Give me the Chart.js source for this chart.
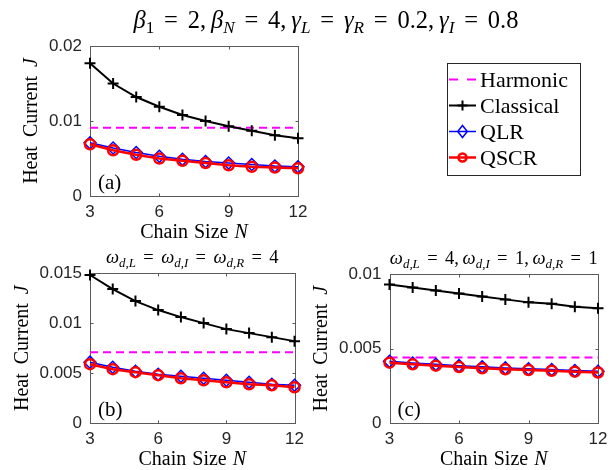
<!DOCTYPE html>
<html><head><meta charset="utf-8">
<script src="https://cdn.jsdelivr.net/npm/chart.js@4.4.1/dist/chart.umd.min.js"></script>
<style>
html,body{margin:0;padding:0;background:#fff;}
#wrap{position:relative;width:615px;height:470px;overflow:hidden;background:#fff;}
canvas{position:absolute;}
</style></head><body>
<div id="wrap">
<canvas id="cA" width="615" height="245" style="left:0;top:0"></canvas>
<canvas id="cB" width="310" height="225" style="left:0;top:245px"></canvas>
<canvas id="cC" width="315" height="225" style="left:300px;top:245px"></canvas>
</div>
<script>
// ---------------- data ----------------
const chainSizes = [3, 4, 5, 6, 7, 8, 9, 10, 11, 12];
const xTickValues = [3, 6, 9, 12];
const xTickLabels = ['3', '6', '9', '12'];
const seriesNames = ['Harmonic', 'Classical', 'QLR', 'QSCR'];

// panel (a)
const harmonicA  = [0.0091, 0.0091, 0.0091, 0.0091, 0.0091, 0.0091, 0.0091, 0.0091, 0.0091, 0.0091];
const classicalA = [0.0177, 0.0150, 0.0132, 0.0119, 0.0108, 0.0100, 0.0093, 0.0087, 0.0081, 0.0077];
const qlrA       = [0.0071, 0.0064, 0.0058, 0.0053, 0.0049, 0.0046, 0.0044, 0.0042, 0.0040, 0.0039];
const qscrA      = [0.0069, 0.0061, 0.0055, 0.0050, 0.0047, 0.0044, 0.0041, 0.0039, 0.0038, 0.0037];
const yTicksA = [0, 0.01, 0.02];
const yTickLabelsA = ['0', '0.01', '0.02'];

// panel (b)
const harmonicB  = [0.0071, 0.0071, 0.0071, 0.0071, 0.0071, 0.0071, 0.0071, 0.0071, 0.0071, 0.0071];
const classicalB = [0.0148, 0.0134, 0.0122, 0.0113, 0.0106, 0.0100, 0.0094, 0.0090, 0.0086, 0.0082];
const qlrB       = [0.0061, 0.0056, 0.0052, 0.0049, 0.0047, 0.0045, 0.0043, 0.0041, 0.0039, 0.0038];
const qscrB      = [0.0059, 0.0054, 0.0051, 0.0048, 0.0045, 0.0043, 0.0041, 0.0039, 0.0038, 0.0036];
const yTicksB = [0, 0.005, 0.01, 0.015];
const yTickLabelsB = ['0', '0.005', '0.01', '0.015'];

// panel (c)
const harmonicC  = [0.0044, 0.0044, 0.0044, 0.0044, 0.0044, 0.0044, 0.0044, 0.0044, 0.0044, 0.0044];
const classicalC = [0.0093, 0.0091, 0.0089, 0.0087, 0.0085, 0.0083, 0.0081, 0.0080, 0.0078, 0.0077];
const qlrC       = [0.00415, 0.00404, 0.00395, 0.00386, 0.00378, 0.00371, 0.00365, 0.00360, 0.00354, 0.00348];
const qscrC      = [0.00406, 0.00395, 0.00386, 0.00377, 0.00369, 0.00362, 0.00357, 0.00352, 0.00346, 0.00340];
const yTicksC = [0, 0.005, 0.01];
const yTickLabelsC = ['0', '0.005', '0.01'];

// ---------------- styles ----------------
const SERIF = '"Liberation Serif", "Times New Roman", serif';
const SANS = '"Liberation Sans", Arial, sans-serif';
const TEXT_COLOR = '#262626';
const BOX_COLOR = '#5a5a5a';
const STY = {
  Harmonic:  { color: '#FF00FF', width: 2,   dash: [8, 5], point: false },
  Classical: { color: '#000000', width: 2,   point: 'cross',   r: 5.5, pw: 2 },
  QLR:       { color: '#0000FF', width: 1.5, point: 'rectRot', r: 6,   pw: 1.5 },
  QSCR:      { color: '#FF0000', width: 2.5, point: 'circle',  r: 5,   pw: 2.5 }
};

// rich text: [text, kind]; kind r=roman i=italic s=sub roman si=sub italic g=gap(em)
function fontFor(kind, size) {
  const it = kind.indexOf('i') >= 0;
  const sub = kind.charAt(0) === 's';
  const s = sub ? size * 0.7 : size;
  return (it ? 'italic ' : '') + s + 'px ' + SERIF;
}
function richWidth(ctx, segs, size) {
  let w = 0;
  segs.forEach(([t, k]) => {
    if (k === 'g') { w += t * size; return; }
    ctx.font = fontFor(k, size); w += ctx.measureText(t).width;
  });
  return w;
}
function drawRich(ctx, segs, x, y, size, align) {
  const w = richWidth(ctx, segs, size);
  let cx = align === 'center' ? x - w / 2 : (align === 'right' ? x - w : x);
  ctx.fillStyle = '#000'; ctx.textAlign = 'left'; ctx.textBaseline = 'alphabetic';
  segs.forEach(([t, k]) => {
    if (k === 'g') { cx += t * size; return; }
    ctx.font = fontFor(k, size);
    const dy = k.charAt(0) === 's' ? size * 0.22 : 0;
    ctx.fillText(t, cx, y + dy);
    cx += ctx.measureText(t).width;
  });
}
const EQ = [[0.4, 'g'], ['=', 'r'], [0.4, 'g']];
const TH = [[0.2, 'g']];
const mainTitle = [['β', 'i'], ['1', 's'], ...EQ, ['2,', 'r'], ...TH, ['β', 'i'], ['N', 'si'], ...EQ, ['4,', 'r'], ...TH,
  ['γ', 'i'], ['L', 'si'], ...EQ, ['γ', 'i'], ['R', 'si'], ...EQ, ['0.2,', 'r'], ...TH, ['γ', 'i'], ['I', 'si'], ...EQ, ['0.8', 'r']];
const subTitleB = [['ω', 'i'], ['d,L', 'si'], ...EQ, ['ω', 'i'], ['d,I', 'si'], ...EQ, ['ω', 'i'], ['d,R', 'si'], ...EQ, ['4', 'r']];
const subTitleC = [['ω', 'i'], ['d,L', 'si'], ...EQ, ['4,', 'r'], ...TH, ['ω', 'i'], ['d,I', 'si'], ...EQ, ['1,', 'r'], ...TH, ['ω', 'i'], ['d,R', 'si'], ...EQ, ['1', 'r']];
const yTitle = [['Heat', 'r'], [0.45, 'g'], ['Current', 'r'], [0.45, 'g'], ['J', 'i']];
const xTitle = [['Chain', 'r'], [0.3, 'g'], ['Size', 'r'], [0.3, 'g'], ['N', 'i']];

const panelCfg = {
  cA: { label: '(a)', yTitleX: 37, legend: true, title: mainTitle, titleX: 326, titleY: 28, titleSize: 24.5 },
  cB: { label: '(b)', yTitleX: 28, sub: subTitleB },
  cC: { label: '(c)', yTitleX: 27, sub: subTitleC }
};

function drawMarker(ctx, style, x, y, r, color, lw) {
  ctx.save(); ctx.strokeStyle = color; ctx.lineWidth = lw; ctx.setLineDash([]);
  ctx.beginPath();
  if (style === 'cross') { ctx.moveTo(x - r, y); ctx.lineTo(x + r, y); ctx.moveTo(x, y - r); ctx.lineTo(x, y + r); }
  else if (style === 'rectRot') { ctx.moveTo(x, y - r); ctx.lineTo(x + r * 0.8, y); ctx.lineTo(x, y + r); ctx.lineTo(x - r * 0.8, y); ctx.closePath(); }
  else if (style === 'circle') { ctx.arc(x, y, r, 0, Math.PI * 2); }
  ctx.stroke(); ctx.restore();
}

const decor = {
  id: 'decor',
  beforeDatasetsDraw(chart) {
    const ctx = chart.ctx, a = chart.chartArea;
    const L = Math.round(a.left) + 0.5, R = Math.round(a.right) + 0.5, T = Math.round(a.top) + 0.5, B = Math.round(a.bottom) + 0.5;
    ctx.save();
    ctx.strokeStyle = BOX_COLOR; ctx.lineWidth = 1;
    ctx.strokeRect(L, T, R - L, B - T);
    ctx.beginPath();
    const xs = chart.scales.x, ys = chart.scales.y;
    xs.ticks.forEach(t => {
      const px = Math.round(xs.getPixelForValue(t.value)) + 0.5;
      ctx.moveTo(px, B); ctx.lineTo(px, B - 3); ctx.moveTo(px, T); ctx.lineTo(px, T + 3);
    });
    ys.ticks.forEach(t => {
      const py = Math.round(ys.getPixelForValue(t.value)) + 0.5;
      ctx.moveTo(L, py); ctx.lineTo(L + 3, py); ctx.moveTo(R, py); ctx.lineTo(R - 3, py);
    });
    ctx.stroke();
    ctx.restore();
  },
  afterDraw(chart) {
    const ctx = chart.ctx, a = chart.chartArea, cfg = panelCfg[chart.canvas.id];
    ctx.save();
    // y title
    ctx.save();
    ctx.translate(cfg.yTitleX, (a.top + a.bottom) / 2);
    ctx.rotate(-Math.PI / 2);
    drawRich(ctx, yTitle, 0, 0, 20, 'center');
    ctx.restore();
    // x title
    drawRich(ctx, xTitle, (a.left + a.right) / 2, a.bottom + 42, 20, 'center');
    // panel label
    drawRich(ctx, [[cfg.label, 'r']], a.left + 8, a.bottom - 7, 21, 'left');
    if (cfg.sub) drawRich(ctx, cfg.sub, (a.left + a.right) / 2, a.top - 10, 18.5, 'center');
    if (cfg.title) drawRich(ctx, cfg.title, cfg.titleX, cfg.titleY, cfg.titleSize, 'center');
    if (cfg.legend) {
      const bx = 447.5, by = 63.5, bw = 133, bh = 112;
      ctx.fillStyle = '#fff'; ctx.fillRect(bx, by, bw, bh);
      ctx.strokeStyle = TEXT_COLOR; ctx.lineWidth = 1; ctx.strokeRect(bx, by, bw, bh);
      const rows = [79.5, 105.5, 131.5, 157.5];
      seriesNames.forEach((n, i) => {
        const st = STY[n], y = rows[i];
        ctx.save();
        ctx.strokeStyle = st.color; ctx.lineWidth = st.width;
        ctx.setLineDash(st.dash ? [9, 9] : []);
        ctx.beginPath(); ctx.moveTo(449, y); ctx.lineTo(476, y); ctx.stroke();
        ctx.restore();
        if (st.point) drawMarker(ctx, st.point, 462.5, y, st.point === 'circle' ? 4 : (st.point === 'cross' ? 5 : 6), st.color, st.pw);
        drawRich(ctx, [[n, 'r']], 480, y + 7.5, 22, 'left');
      });
    }
    ctx.restore();
  }
};

function makeDatasets(h, c, l, s) {
  const vals = [h, c, l, s];
  return seriesNames.map((n, i) => {
    const st = STY[n];
    return {
      label: n,
      data: chainSizes.map((x, j) => ({ x: x, y: vals[i][j] })),
      borderColor: st.color,
      backgroundColor: 'rgba(0,0,0,0)',
      borderWidth: st.width,
      borderDash: st.dash || [],
      pointStyle: st.point || 'circle',
      pointRadius: st.point ? st.r : 0,
      pointHoverRadius: st.point ? st.r : 0,
      pointBorderWidth: st.pw || 0,
      pointBorderColor: st.color,
      pointBackgroundColor: 'rgba(0,0,0,0)',
      tension: 0,
      fill: false,
      clip: false,
      order: 3 - i
    };
  });
}

function makeChart(id, ds, yTicks, yLabels, layout) {
  return new Chart(document.getElementById(id), {
    type: 'line',
    data: { datasets: ds },
    plugins: [decor],
    options: {
      responsive: false,
      animation: false,
      events: [],
      layout: { padding: { left: 0, top: layout.top, right: layout.right, bottom: 0 } },
      plugins: { legend: { display: false }, tooltip: { enabled: false }, title: { display: false } },
      scales: {
        x: {
          type: 'linear', min: 3, max: 12,
          grid: { display: false, drawTicks: false }, border: { display: false },
          afterBuildTicks: s => { s.ticks = xTickValues.map(v => ({ value: v })); },
          ticks: {
            padding: 6, color: TEXT_COLOR, maxRotation: 0, autoSkip: false,
            font: { family: SANS, size: 17 },
            callback: v => { const k = xTickValues.indexOf(v); return k >= 0 ? xTickLabels[k] : ''; }
          },
          afterFit: s => { s.height = layout.xh; }
        },
        y: {
          type: 'linear', min: yTicks[0], max: yTicks[yTicks.length - 1],
          grid: { display: false, drawTicks: false }, border: { display: false },
          afterBuildTicks: s => { s.ticks = yTicks.map(v => ({ value: v })); },
          ticks: {
            padding: 8, color: TEXT_COLOR, autoSkip: false,
            font: { family: SANS, size: 17 },
            callback: v => { const k = yTicks.findIndex(t => Math.abs(t - v) < 1e-9); return k >= 0 ? yLabels[k] : ''; }
          },
          afterFit: s => { s.width = layout.yw; }
        }
      }
    }
  });
}

makeChart('cA', makeDatasets(harmonicA, classicalA, qlrA, qscrA), yTicksA, yTickLabelsA,
  { top: 46, right: 615 - 298, xh: 245 - 196, yw: 90 });
makeChart('cB', makeDatasets(harmonicB, classicalB, qlrB, qscrB), yTicksB, yTickLabelsB,
  { top: 28, right: 310 - 297.5, xh: 225 - 178.3, yw: 90 });
makeChart('cC', makeDatasets(harmonicC, classicalC, qlrC, qscrC), yTicksC, yTickLabelsC,
  { top: 29, right: 315 - 298, xh: 225 - 178.3, yw: 89.5 });
</script>
</body></html>
